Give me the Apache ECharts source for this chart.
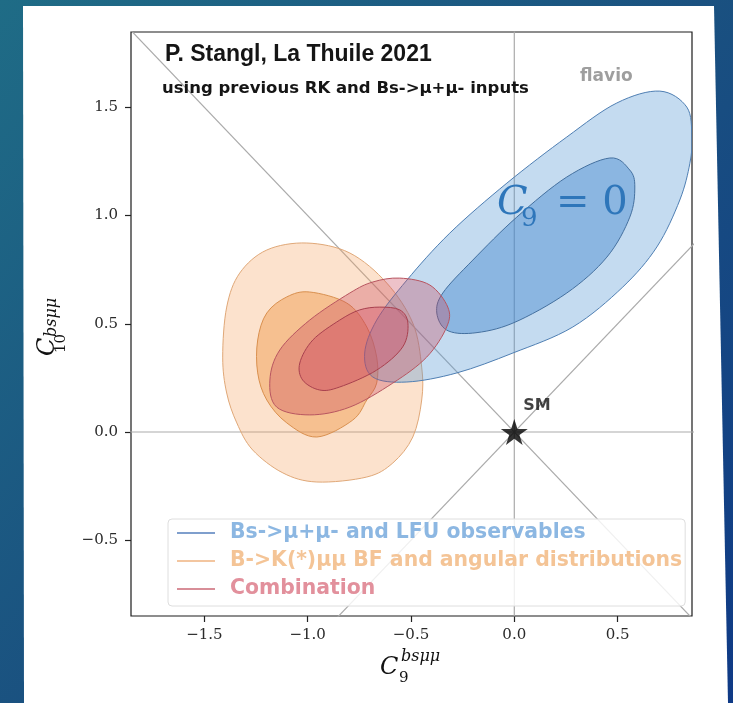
<!DOCTYPE html>
<html>
<head>
<meta charset="utf-8">
<title>C9 - C10 fit</title>
<script src="https://cdn.jsdelivr.net/npm/echarts@6/dist/echarts.min.js"></script>
<style>
  html, body { margin: 0; padding: 0; }
  #chart { width: 733px; height: 703px; }
</style>
</head>
<body>
<div id="chart"></div>
<script>
// contour boundaries, [C9, C10]
const bsmumu2 = [
  [0.704, 1.575], [0.835, 1.501], [0.859, 1.363], [0.850, 1.242], [0.801, 1.072],
  [0.690, 0.855], [0.525, 0.670], [0.283, 0.485], [-0.007, 0.365], [-0.278, 0.273],
  [-0.520, 0.231], [-0.685, 0.254], [-0.724, 0.365], [-0.666, 0.517], [-0.520, 0.702],
  [-0.312, 0.919], [-0.036, 1.150], [0.254, 1.363], [0.496, 1.520]
];
const bsmumu1 = [
  [0.462, 1.266], [0.559, 1.210], [0.583, 1.132], [0.559, 0.993], [0.448, 0.808],
  [0.254, 0.642], [-0.007, 0.503], [-0.201, 0.457], [-0.327, 0.471], [-0.375, 0.550],
  [-0.346, 0.642], [-0.201, 0.794], [0.012, 0.993], [0.254, 1.178]
];
const bkmumu2 = [
  [-1.004, 0.873], [-0.796, 0.827], [-0.617, 0.688], [-0.491, 0.503], [-0.448, 0.300],
  [-0.448, 0.148], [-0.491, -0.023], [-0.588, -0.143], [-0.714, -0.208], [-0.956, -0.231],
  [-1.120, -0.189], [-1.266, -0.083], [-1.343, 0.042], [-1.392, 0.180], [-1.411, 0.346],
  [-1.392, 0.577], [-1.329, 0.734], [-1.198, 0.841]
];
const bkmumu1 = [
  [-0.990, 0.647], [-0.811, 0.596], [-0.714, 0.485], [-0.666, 0.346], [-0.666, 0.226],
  [-0.714, 0.148], [-0.782, 0.055], [-0.956, -0.023], [-1.101, 0.042], [-1.198, 0.148],
  [-1.242, 0.273], [-1.242, 0.425], [-1.198, 0.550], [-1.101, 0.624]
];
const comb2 = [
  [-0.554, 0.711], [-0.409, 0.679], [-0.322, 0.577], [-0.327, 0.485], [-0.424, 0.346],
  [-0.588, 0.226], [-0.796, 0.115], [-0.990, 0.079], [-1.150, 0.115], [-1.183, 0.240],
  [-1.135, 0.379], [-0.990, 0.517], [-0.796, 0.642], [-0.685, 0.693]
];
const comb1 = [
  [-0.651, 0.577], [-0.554, 0.564], [-0.515, 0.503], [-0.540, 0.393], [-0.666, 0.286],
  [-0.845, 0.208], [-0.942, 0.194], [-1.024, 0.240], [-1.038, 0.319], [-0.975, 0.425],
  [-0.845, 0.517], [-0.748, 0.564]
];

const smPoint = [[0, 0]];
// guide lines through the SM point
const diagDown = [[-2, 2], [1, -1]];
const diagUp = [[-1, -1], [1, 1]];
const vLine = [[0, -1], [0, 2]];
const hLine = [[-2, 0], [1, 0]];

const xTicks = [-1.5, -1.0, -0.5, 0.0, 0.5];
const yTicks = [-0.5, 0.0, 0.5, 1.0, 1.5];

const nameBs = 'Bs->\u03bc+\u03bc- and LFU observables';
const nameBK = 'B->K(*)\u03bc\u03bc BF and angular distributions';
const nameComb = 'Combination';

const fmt = v => (v < 0 ? '\u2212' : '') + Math.abs(v).toFixed(1);
const starPath = 'path://M50,0L61.2,34.6L97.6,34.5L68.1,55.9L79.4,90.5L50,69.1L20.6,90.5L31.9,55.9L2.4,34.5L38.8,34.6Z';

// closed curve through the pixel points (catmull-rom as cubic beziers)
function closedCurve(px) {
  const n = px.length;
  const f = v => v.toFixed(1);
  let d = 'M' + f(px[0][0]) + ',' + f(px[0][1]);
  for (let i = 0; i < n; i++) {
    const p0 = px[(i - 1 + n) % n], p1 = px[i], p2 = px[(i + 1) % n], p3 = px[(i + 2) % n];
    const c1x = p1[0] + (p2[0] - p0[0]) / 6, c1y = p1[1] + (p2[1] - p0[1]) / 6;
    const c2x = p2[0] - (p3[0] - p1[0]) / 6, c2y = p2[1] - (p3[1] - p1[1]) / 6;
    d += 'C' + f(c1x) + ',' + f(c1y) + ' ' + f(c2x) + ',' + f(c2y) + ' ' + f(p2[0]) + ',' + f(p2[1]);
  }
  return d + 'Z';
}

function contour(name, pts, fill, stroke, z) {
  return {
    name: name,
    type: 'custom',
    data: pts,
    z: z,
    clip: true,
    silent: true,
    renderItem: function (params, api) {
      if (params.dataIndex !== 0) return null;
      return {
        type: 'path',
        shape: { pathData: closedCurve(pts.map(p => api.coord(p))) },
        style: { fill: fill, stroke: stroke, lineWidth: 1 }
      };
    }
  };
}

function guide(pts) {
  return {
    type: 'line', data: pts, symbol: 'none', silent: true, clip: true, z: 1,
    lineStyle: { color: '#ababab', width: 1.2 }
  };
}

const serif = '"DejaVu Serif"';
const chart = echarts.init(document.getElementById('chart'));

chart.setOption({
  animation: false,
  grid: {
    left: 131, right: 41, top: 32, bottom: 87,
    show: true, borderColor: '#1c1c1c', borderWidth: 1.2, backgroundColor: 'transparent'
  },
  xAxis: {
    type: 'value', min: -1.855, max: 0.86,
    axisLine: { show: false, onZero: false },
    splitLine: { show: false },
    axisTick: { show: true, length: 6, customValues: xTicks, lineStyle: { color: '#222', width: 1.2 } },
    axisLabel: { customValues: xTicks, formatter: fmt, margin: 12, fontFamily: 'DejaVu Serif', fontSize: 15, color: '#2a2a2a' }
  },
  yAxis: {
    type: 'value', min: -0.85, max: 1.848,
    axisLine: { show: false, onZero: false },
    splitLine: { show: false },
    axisTick: { show: true, length: 6, customValues: yTicks, lineStyle: { color: '#222', width: 1.2 } },
    axisLabel: { customValues: yTicks, formatter: fmt, margin: 13, fontFamily: 'DejaVu Serif', fontSize: 15, color: '#2a2a2a' }
  },
  legend: {
    orient: 'vertical',
    left: 168, top: 519,
    padding: [2, 3, 5, 9],
    itemWidth: 38, itemHeight: 2, itemGap: 4,
    icon: 'rect',
    selectedMode: false,
    backgroundColor: 'rgba(255,255,255,0.82)',
    borderColor: '#dedede', borderWidth: 1, borderRadius: 4,
    textStyle: { fontFamily: 'DejaVu Sans', fontWeight: 'bold', fontSize: 20.4, lineHeight: 24, padding: [0, 0, 0, 10] },
    data: [
      { name: nameBs, itemStyle: { color: '#7f9fcd' }, textStyle: { color: '#8cb7e2' } },
      { name: nameBK, itemStyle: { color: '#f3c6a0' }, textStyle: { color: '#f4c496' } },
      { name: nameComb, itemStyle: { color: '#d88e98' }, textStyle: { color: '#e2909c' } }
    ]
  },
  graphic: [
    {
      type: 'rect', z: -20, silent: true,
      shape: { x: 0, y: 0, width: 733, height: 703 },
      style: {
        fill: new echarts.graphic.LinearGradient(0, 0, 1, 1, [
          { offset: 0, color: '#1f6c86' },
          { offset: 0.5, color: '#1a5180' },
          { offset: 1, color: '#0f3a86' }
        ])
      }
    },
    {
      type: 'polygon', z: -19, silent: true,
      shape: { points: [[23, 6], [714, 6], [728, 703], [24, 703]] },
      style: { fill: '#ffffff' }
    },
    {
      type: 'text', x: 165, y: 55, z: 20,
      style: { text: 'P. Stangl, La Thuile 2021', font: 'bold 23px "Liberation Sans"', fill: '#151515', align: 'left', verticalAlign: 'middle' }
    },
    {
      type: 'text', x: 162, y: 89, z: 20,
      style: { text: 'using previous RK and Bs->\u03bc+\u03bc- inputs', font: 'bold 16.5px "DejaVu Sans"', fill: '#151515', align: 'left', verticalAlign: 'middle' }
    },
    {
      type: 'text', x: 580, y: 77, z: 20,
      style: { text: 'flavio', font: 'bold 17px "DejaVu Sans"', fill: '#9e9e9e', align: 'left', verticalAlign: 'middle' }
    },
    // slide annotation
    {
      type: 'text', x: 497, y: 204, z: 20,
      style: { text: 'C', font: 'italic 40px ' + serif, fill: '#2e76ba', align: 'left', verticalAlign: 'middle' }
    },
    {
      type: 'text', x: 521, y: 219, z: 20,
      style: { text: '9', font: '26px ' + serif, fill: '#2e76ba', align: 'left', verticalAlign: 'middle' }
    },
    {
      type: 'text', x: 556, y: 204, z: 20,
      style: { text: '= 0', font: '40px ' + serif, fill: '#2e76ba', align: 'left', verticalAlign: 'middle' }
    },
    // x axis name
    {
      type: 'text', x: 380, y: 668, z: 20,
      style: { text: 'C', font: 'italic 24px ' + serif, fill: '#111', align: 'left', verticalAlign: 'middle' }
    },
    {
      type: 'text', x: 401, y: 657, z: 20,
      style: { text: 'bs\u03bc\u03bc', font: 'italic 16px ' + serif, fill: '#111', align: 'left', verticalAlign: 'middle' }
    },
    {
      type: 'text', x: 399, y: 678, z: 20,
      style: { text: '9', font: '15px ' + serif, fill: '#111', align: 'left', verticalAlign: 'middle' }
    },
    // y axis name (rotated)
    {
      type: 'text', x: 48, y: 356, rotation: Math.PI / 2, z: 20,
      style: { text: 'C', font: 'italic 24px ' + serif, fill: '#111', align: 'left', verticalAlign: 'middle' }
    },
    {
      type: 'text', x: 52, y: 337, rotation: Math.PI / 2, z: 20,
      style: { text: 'bs\u03bc\u03bc', font: 'italic 16px ' + serif, fill: '#111', align: 'left', verticalAlign: 'middle' }
    },
    {
      type: 'text', x: 61, y: 353, rotation: Math.PI / 2, z: 20,
      style: { text: '10', font: '15px ' + serif, fill: '#111', align: 'left', verticalAlign: 'middle' }
    }
  ],
  series: [
    guide(diagDown),
    guide(diagUp),
    guide(vLine),
    guide(hLine),
    contour(nameBK, bkmumu2, 'rgba(245,160,90,0.30)', '#e0a878', 2),
    contour(nameBK, bkmumu1, 'rgba(240,150,70,0.45)', '#d9904f', 3),
    contour(nameBs, bsmumu2, 'rgba(91,155,213,0.36)', '#4f7fb3', 4),
    contour(nameBs, bsmumu1, 'rgba(60,130,205,0.42)', '#44709f', 5),
    contour(nameComb, comb2, 'rgba(200,70,90,0.33)', '#b85560', 6),
    contour(nameComb, comb1, 'rgba(205,70,95,0.35)', '#a8404e', 7),
    {
      type: 'scatter', data: smPoint, z: 10, silent: true,
      symbol: starPath, symbolSize: [27, 26],
      itemStyle: { color: '#000' },
      label: {
        show: true, formatter: 'SM', position: 'inside', offset: [9, -26], align: 'left', verticalAlign: 'middle',
        fontFamily: 'DejaVu Sans', fontWeight: 'bold', fontSize: 16, color: '#111'
      }
    }
  ]
});
</script>
</body>
</html>
